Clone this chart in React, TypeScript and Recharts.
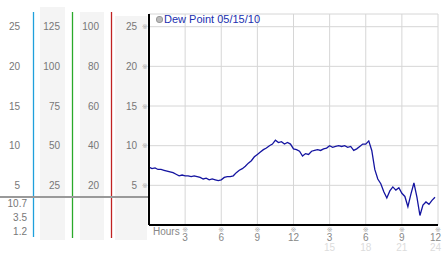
import React from 'react';
import { LineChart, Line, XAxis, YAxis, CartesianGrid, Legend } from 'recharts';

// dew point readings, 15 minute steps from midnight
const hours = [
  0, 0.25, 0.5, 0.75, 1, 1.25, 1.5, 1.75, 2, 2.25, 2.5, 2.75,
  3, 3.25, 3.5, 3.75, 4, 4.25, 4.5, 4.75, 5, 5.25, 5.5, 5.75,
  6, 6.25, 6.5, 6.75, 7, 7.25, 7.5, 7.75, 8, 8.25, 8.5, 8.75,
  9, 9.25, 9.5, 9.75, 10, 10.25, 10.5, 10.75, 11, 11.25, 11.5, 11.75,
  12, 12.25, 12.5, 12.75, 13, 13.25, 13.5, 13.75, 14, 14.25, 14.5, 14.75,
  15, 15.25, 15.5, 15.75, 16, 16.25, 16.5, 16.75, 17, 17.25, 17.5, 17.75,
  18, 18.25, 18.5, 18.75, 19, 19.25, 19.5, 19.75, 20, 20.25, 20.5, 20.75,
  21, 21.25, 21.5, 21.75, 22, 22.25, 22.5, 22.75, 23, 23.25, 23.5, 23.75
];
const dewPoint = [
  7.3, 7.1, 7.2, 7.0, 7.0, 6.9, 6.8, 6.7, 6.6, 6.4, 6.2, 6.3,
  6.2, 6.2, 6.1, 6.2, 6.1, 6.0, 5.8, 5.9, 5.7, 5.8, 5.7, 5.6,
  5.7, 6.0, 6.1, 6.1, 6.2, 6.6, 6.9, 7.1, 7.4, 7.8, 8.1, 8.6,
  8.9, 9.2, 9.5, 9.7, 10.0, 10.2, 10.7, 10.4, 10.5, 10.2, 10.4, 10.2,
  9.6, 9.5, 9.3, 8.7, 9.0, 8.9, 9.3, 9.4, 9.5, 9.4, 9.6, 9.7,
  10.0, 9.8, 9.9, 10.0, 9.9, 10.0, 9.8, 9.9, 9.4, 9.6, 9.9, 10.2,
  10.2, 10.6, 9.4, 7.0, 5.8, 5.2, 4.2, 3.4, 4.3, 4.8, 4.4, 4.7,
  4.0, 3.6, 2.3, 3.9, 5.3, 3.5, 1.2, 2.5, 2.9, 2.6, 3.1, 3.5
];

const xTicks = [0, 3, 6, 9, 12, 15, 18, 21, 24];
const xTickLabels = ['Hours', '3', '6', '9', '12', '3', '6', '9', '12'];
const xTickSubLabels = ['', '', '', '', '', '15', '18', '21', '24'];

const tempTicks = [5, 10, 15, 20, 25];
const colBTicks = [25, 50, 75, 100, 125];
const colCTicks = [20, 40, 60, 80, 100];
const stats = ['10.7', '3.5', '1.2'];

const FONT = '"Liberation Sans", Arial, sans-serif';

const chartData = hours.map((h, i) => ({ hour: h, dew: dewPoint[i] }));

function YTick({ x, y, payload, dx, mark }: any) {
  return (
    <g>
      <text x={x + dx} y={y} dy={3.5} textAnchor="end" fontSize={10} fontFamily={FONT} fill="#777">
        {payload.value}
      </text>
      {mark && (
        <text x={x - 4} y={y} dy={2.5} textAnchor="middle" fontSize={7} fontFamily="DejaVu Sans" fill="#aaa">
          ※
        </text>
      )}
    </g>
  );
}

function XTick({ x, y, payload }: any) {
  const i = xTicks.indexOf(payload.value);
  if (i === 0) {
    return (
      <text x={x + 4} y={y + 10} fontSize={10} fontFamily={FONT} fill="#888">
        {xTickLabels[0]}
      </text>
    );
  }
  const last = i === xTicks.length - 1;
  const tx = last ? x + 3 : x;
  const anchor = last ? 'end' : 'middle';
  return (
    <g>
      <text x={x} y={y + 7} textAnchor="middle" fontSize={7} fontFamily="DejaVu Sans" fill="#aaa">※</text>
      <text x={tx} y={y + 16} textAnchor={anchor} fontSize={10} fontFamily={FONT} fill="#888">
        {xTickLabels[i]}
      </text>
      <text x={tx} y={y + 26} textAnchor={anchor} fontSize={10} fontFamily={FONT} fill="#dcdcdc">
        {xTickSubLabels[i]}
      </text>
    </g>
  );
}

function LegendContent() {
  return (
    <div style={{ display: 'flex', alignItems: 'center', fontFamily: FONT, fontSize: 11, color: '#2030b0', whiteSpace: 'nowrap' }}>
      <span style={{ display: 'inline-block', width: 5, height: 5, borderRadius: 3, background: '#bbb', border: '1px solid #999', marginRight: 1 }} />
      Dew Point 05/15/10
    </div>
  );
}

export default function App() {
  return (
    <div style={{ position: 'absolute', left: 0, top: 0, width: 442, height: 253, background: '#fff' }}>
      <svg width={442} height={253} style={{ position: 'absolute', left: 0, top: 0 }}>
        <rect x={40} y={7} width={25} height={233} fill="#f4f4f4" />
        <rect x={80} y={12} width={24} height={228} fill="#f4f4f4" />
        <rect x={115} y={16} width={32} height={224} fill="#f4f4f4" />
        <line x1={33.5} y1={12} x2={33.5} y2={237} stroke="#1fa0dc" strokeWidth={1.3} />
        <line x1={72.5} y1={12} x2={72.5} y2={238} stroke="#2aaa2a" strokeWidth={1.3} />
        <line x1={111.5} y1={12} x2={111.5} y2={238} stroke="#c02222" strokeWidth={1.3} />
        <line x1={0} y1={197} x2={150} y2={197} stroke="#999" strokeWidth={2} />
        {stats.map((s, i) => (
          <text key={s} x={27} y={207 + i * 14} textAnchor="end" fontSize={10} fontFamily={FONT} fill="#777">
            {s}
          </text>
        ))}
      </svg>
      <div style={{ position: 'absolute', left: 0, top: 0 }}>
        <LineChart width={442} height={253} data={chartData} margin={{ top: 14, right: 4, bottom: 0, left: 0 }}>
          <CartesianGrid yAxisId="a" stroke="#d6d6d6" />
          <XAxis
            dataKey="hour"
            type="number"
            domain={[0, 24]}
            ticks={xTicks}
            interval={0}
            height={28}
            tickSize={0}
            tickMargin={0}
            tickLine={false}
            axisLine={{ stroke: '#000', strokeWidth: 2 }}
            tick={<XTick />}
          />
          {/* left axes are stacked by id: "a" sits next to the plot */}
          <YAxis yAxisId="a" type="number" domain={[0, 26.6]} ticks={tempTicks} interval={0} width={38}
            tickSize={0} tickMargin={0} tickLine={false} allowDataOverflow
            axisLine={{ stroke: '#000', strokeWidth: 2 }}
            tick={<YTick dx={-12} mark />} />
          <YAxis yAxisId="b" type="number" domain={[0, 106.4]} ticks={colCTicks} interval={0} width={39}
            tickSize={0} tickMargin={0} tickLine={false} axisLine={false} allowDataOverflow
            tick={<YTick dx={-12} />} />
          <YAxis yAxisId="c" type="number" domain={[0, 133]} ticks={colBTicks} interval={0} width={39}
            tickSize={0} tickMargin={0} tickLine={false} axisLine={false} allowDataOverflow
            tick={<YTick dx={-12} />} />
          <YAxis yAxisId="d" type="number" domain={[0, 26.6]} ticks={tempTicks} interval={0} width={33}
            tickSize={0} tickMargin={0} tickLine={false} axisLine={false} allowDataOverflow
            tick={<YTick dx={-13} />} />
          <Legend
            layout="vertical"
            align="center"
            verticalAlign="middle"
            content={<LegendContent />}
            wrapperStyle={{ left: 156, top: 13, width: 150, height: 15 }}
          />
          <Line
            yAxisId="a"
            type="linear"
            dataKey="dew"
            stroke="#1414a0"
            strokeWidth={1.3}
            dot={false}
            isAnimationActive={false}
          />
        </LineChart>
      </div>
    </div>
  );
}
